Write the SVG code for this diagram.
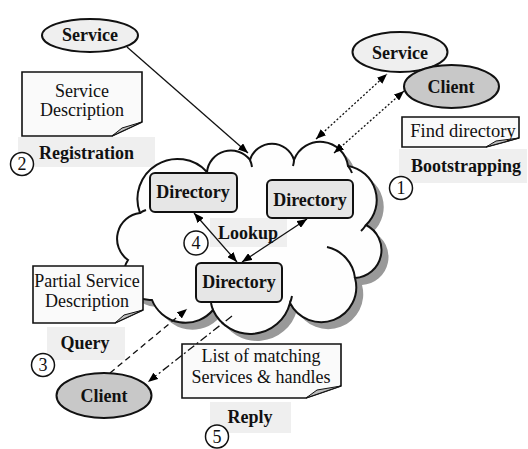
<svg xmlns="http://www.w3.org/2000/svg" width="528" height="449" viewBox="0 0 528 449">
<defs>
<marker id="ah" viewBox="0 0 10 8" refX="10" refY="4" markerWidth="10" markerHeight="8" markerUnits="userSpaceOnUse" orient="auto-start-reverse">
<path d="M0,0 L10,4 L0,8 Z" fill="#000"/>
</marker>
<path id="cloud" d="M140,213 A40,40 0 0 1 207,172 A24,24 0 0 1 250,160 A23,23 0 0 1 294,160 A28,28 0 0 1 348,166 A34.5,34.5 0 0 1 366,225 A28,28 0 0 1 355,278 A35,35 0 0 1 290,303 A41,41 0 0 1 213,310 A36,36 0 0 1 152,300 A26,26 0 0 1 128,260 A26,26 0 0 1 140,213 Z"/>
</defs>
<style>
text{font-family:"Liberation Serif","Times New Roman",serif;font-size:18px;fill:#111;text-anchor:middle}
.b{font-weight:bold}
.lbl{fill:#efefef}
.light{fill:#efefef;stroke:#111;stroke-width:2}
.dark{fill:#c8c8c8;stroke:#111;stroke-width:2}
.dir{fill:#e6e6e6;stroke:#111;stroke-width:2}
.note{fill:#fafafa;stroke:#111;stroke-width:1.6}
.fold{fill:#bdbdbd;stroke:#111;stroke-width:1}
.num{fill:#fff;stroke:#111;stroke-width:1.5}
.c{fill:none;stroke:#111;stroke-width:1.3}
</style>

<g id="labels">
<rect class="lbl" x="18" y="137" width="137" height="30"/>
<rect class="lbl" x="399" y="149" width="128" height="34"/>
<rect class="lbl" x="47" y="327" width="78" height="33"/>
<rect class="lbl" x="210" y="402" width="81" height="31"/>
<text class="b" x="86.5" y="159">Registration</text>
<text class="b" x="466" y="172">Bootstrapping</text>
<text class="b" x="85" y="349">Query</text>
<text class="b" x="250" y="423">Reply</text>
</g>

<g id="cloud-shape">
<use href="#cloud" transform="translate(7,7)" fill="#999"/>
<use href="#cloud" fill="#fefefe" stroke="#111" stroke-width="2"/>
<path d="M207,172 A40,40 0 0 1 212,180 M250,160 A24,24 0 0 1 252,167 M294,160 A23,23 0 0 1 293,166 M348,166 A28,28 0 0 1 352,173 M366,225 A34.5,34.5 0 0 1 361,231 M327,247 A36,36 0 0 1 355,278 M290,303 A41,41 0 0 0 292,296 M213,310 A41,41 0 0 1 211,303 M140,213 A26,26 0 0 1 146,210" fill="none" stroke="#111" stroke-width="2"/>
<rect class="lbl" x="210" y="218" width="77" height="29"/>
<text class="b" x="248" y="239">Lookup</text>
</g>

<g id="dir1">
<rect class="dir" x="150" y="173" width="87" height="39" rx="5"/>
<text class="b" x="193" y="198">Directory</text>
</g>
<g id="dir2">
<rect class="dir" x="267" y="180" width="86" height="38" rx="5"/>
<text class="b" x="310" y="206">Directory</text>
</g>
<g id="dir3">
<rect class="dir" x="196" y="263" width="86" height="39" rx="5"/>
<text class="b" x="239" y="288">Directory</text>
</g>

<g id="service1">
<ellipse class="light" cx="90" cy="35.5" rx="48" ry="16.5"/>
<text class="b" x="90" y="41">Service</text>
</g>
<g id="service2">
<ellipse class="light" cx="400" cy="52" rx="47.5" ry="20"/>
<text class="b" x="400" y="59">Service</text>
</g>
<g id="client1">
<ellipse class="dark" cx="451.5" cy="86.5" rx="47.5" ry="21.5"/>
<text class="b" x="451" y="93">Client</text>
</g>
<g id="client2">
<ellipse class="dark" cx="104" cy="395.5" rx="47.5" ry="22.5"/>
<text class="b" x="104" y="402">Client</text>
</g>

<g id="note-service-description">
<path class="note" d="M22,72 H142 V122 L112,136 H22 Z"/>
<path class="fold" d="M112,136 L142,122 L122,128 Z"/>
<text x="82" y="97">Service</text>
<text x="82" y="116">Description</text>
</g>
<g id="note-find-directory">
<path class="note" d="M402,117 H519 V138 L486,147 H402 Z"/>
<path class="fold" d="M486,147 L519,138 L496,141 Z"/>
<text x="463" y="137" style="font-size:18.5px">Find directory</text>
</g>
<g id="note-partial">
<path class="note" d="M33,266 H143 V310 L115,323 H33 Z"/>
<path class="fold" d="M115,323 L143,310 L124,315 Z"/>
<text x="87" y="287">Partial Service</text>
<text x="87" y="307">Description</text>
</g>
<g id="note-list">
<path class="note" d="M182,344 H341 V386 L306,398 H182 Z"/>
<path class="fold" d="M306,398 L341,386 L317,390 Z"/>
<text x="261" y="362">List of matching</text>
<text x="261" y="383">Services &amp; handles</text>
</g>

<g id="connectors">
<line class="c" x1="127" y1="47" x2="248" y2="153" marker-end="url(#ah)"/>
<line class="c" x1="316" y1="139" x2="387" y2="74" stroke-width="2" stroke-dasharray="2 2" marker-start="url(#ah)" marker-end="url(#ah)"/>
<line class="c" x1="334" y1="153" x2="404" y2="91" stroke-width="2" stroke-dasharray="2 2" marker-start="url(#ah)" marker-end="url(#ah)"/>
<line class="c" x1="194" y1="213" x2="237" y2="262" marker-start="url(#ah)" marker-end="url(#ah)"/>
<line class="c" x1="307" y1="219" x2="242" y2="262" marker-start="url(#ah)" marker-end="url(#ah)"/>
<line class="c" x1="110" y1="373" x2="187" y2="309" stroke-dasharray="6 4" marker-end="url(#ah)"/>
<line class="c" x1="232" y1="316" x2="148" y2="382" stroke-dasharray="8 3 2 3" marker-end="url(#ah)"/>
</g>

<g id="steps">
<circle class="num" cx="401" cy="188" r="11.5"/><text x="401" y="194">1</text>
<circle class="num" cx="22" cy="164" r="11.5"/><text x="22" y="170">2</text>
<circle class="num" cx="43" cy="365" r="11.5"/><text x="43" y="371">3</text>
<circle class="num" cx="196" cy="243" r="12"/><text x="196" y="249">4</text>
<circle class="num" cx="217" cy="436.5" r="11.5"/><text x="217" y="442.5">5</text>
</g>
</svg>
